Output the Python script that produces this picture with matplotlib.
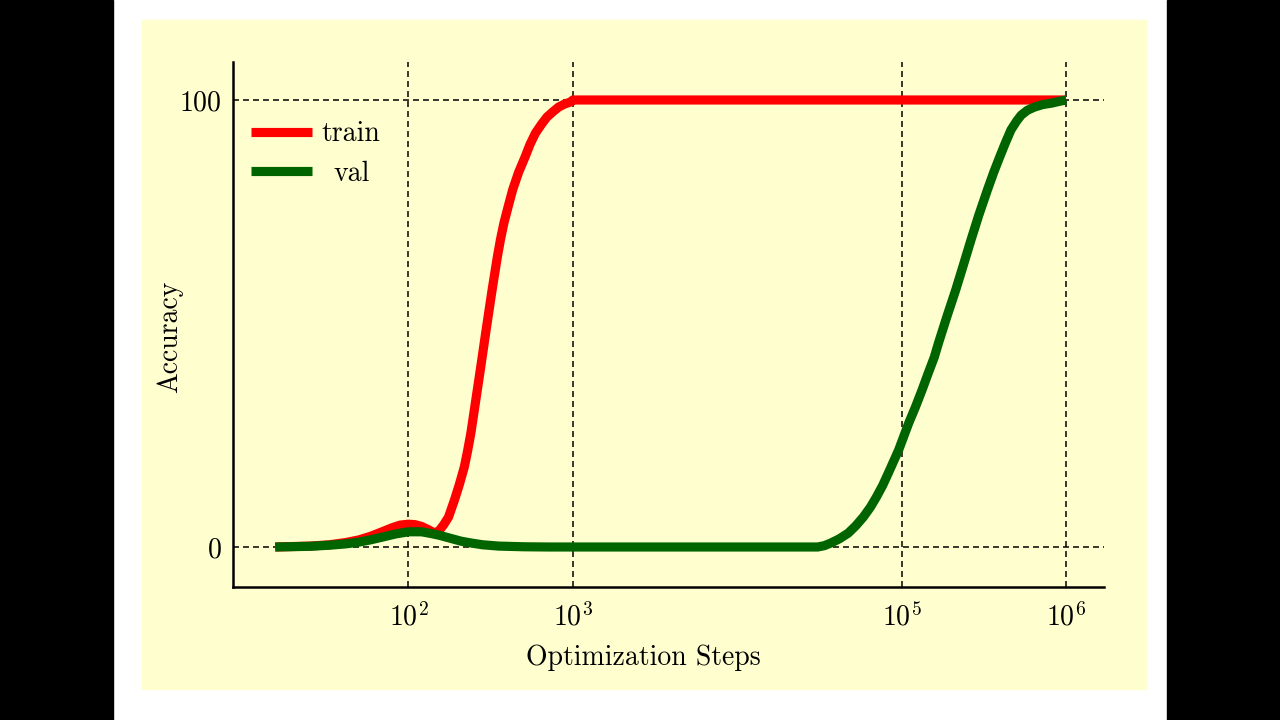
import matplotlib
matplotlib.use("Agg")
import matplotlib.pyplot as plt
import numpy as np
from matplotlib.patches import Rectangle
from matplotlib.ticker import FixedLocator, LogFormatterMathtext, NullLocator

# log10 of optimization steps
train_logx = [1.19, 1.40, 1.52, 1.62, 1.70, 1.77, 1.84, 1.90, 1.95, 2.00, 2.04, 2.08,
              2.12, 2.15, 2.17, 2.19, 2.215, 2.244, 2.28, 2.31, 2.34, 2.36, 2.38, 2.395,
              2.41, 2.425, 2.44, 2.455, 2.47, 2.485, 2.50, 2.512, 2.541, 2.56, 2.581, 2.61,
              2.634, 2.67, 2.709, 2.74, 2.773, 2.81, 2.843, 2.88, 2.913, 2.95, 2.99, 3.00,
              6.00]
train_acc = [0, 0.2, 0.5, 1.0, 1.6, 2.4, 3.4, 4.3, 4.9, 5.1, 5.0, 4.6,
             3.9, 3.3, 3.2, 3.8, 5.0, 6.7, 10.5, 14.0, 17.9, 21.5, 25.5, 29.2,
             32.9, 36.6, 40.3, 44.1, 47.9, 51.6, 55.3, 58.2, 64.9, 68.8, 72.5, 76.6,
             79.9, 83.8, 87.2, 90.1, 92.6, 94.6, 96.2, 97.4, 98.4, 99.1, 99.6, 100,
             100]

val_logx = [1.19, 1.40, 1.52, 1.62, 1.70, 1.77, 1.84, 1.92, 2.00, 2.08, 2.14, 2.19,
            2.26, 2.32, 2.38, 2.45, 2.55, 2.70, 2.85, 4.49, 4.53, 4.57, 4.62, 4.675,
            4.72, 4.767, 4.81, 4.847, 4.885, 4.92, 4.982, 5.043, 5.085, 5.124, 5.16, 5.199,
            5.224, 5.275, 5.329, 5.375, 5.422, 5.47, 5.522, 5.56, 5.596, 5.63, 5.665, 5.70,
            5.727, 5.765, 5.807, 5.86, 5.913, 5.96, 6.00]
val_acc = [0, 0.15, 0.4, 0.7, 1.1, 1.6, 2.2, 2.9, 3.4, 3.4, 3.0, 2.6,
           1.9, 1.3, 0.9, 0.5, 0.2, 0.05, 0, 0, 0.3, 0.9, 1.8, 3.1,
           4.7, 6.7, 8.9, 11.2, 13.8, 16.6, 21.7, 27.7, 31.4, 35.1, 38.7, 42.5,
           45.6, 51.5, 57.5, 63.0, 68.7, 74.3, 79.9, 83.8, 87.2, 90.3, 93.3, 95.3,
           96.6, 97.7, 98.4, 99.0, 99.3, 99.7, 100]

x_ticks = [1e2, 1e3, 1e5, 1e6]
y_ticks = [0, 100]

plt.rcParams['font.family'] = ['cmr10']
plt.rcParams['mathtext.fontset'] = 'cm'
plt.rcParams['axes.unicode_minus'] = False
plt.rcParams['axes.formatter.use_mathtext'] = True
plt.rcParams['lines.scale_dashes'] = False

fs = 20

fig = plt.figure(figsize=(12.8, 7.2), dpi=100)
fig.patch.set_facecolor('white')
# black side bars and the yellow panel behind the plot
fig.add_artist(Rectangle((0, 0), 113 / 1280, 1, transform=fig.transFigure,
                         color='black', zorder=-10))
fig.add_artist(Rectangle((1167 / 1280, 0), 113 / 1280, 1, transform=fig.transFigure,
                         color='black', zorder=-10))
fig.add_artist(Rectangle((142 / 1280, 31 / 720), 1004 / 1280, 669 / 720,
                         transform=fig.transFigure, color='#fefecf', zorder=-9))

ax = fig.add_axes([233 / 1280, 133 / 720, 871 / 1280, 525 / 720])
ax.set_facecolor('none')

ax.set_xscale('log')
ax.set_xlim(10 ** 0.933, 10 ** 6.231)
ax.set_ylim(-8.95, 108.5)

grid_kw = dict(color='black', lw=1.1, dashes=(4.3, 2.9), zorder=1)
for xt in x_ticks:
    ax.axvline(xt, **grid_kw)
for yt in y_ticks:
    ax.axhline(yt, **grid_kw)

ax.plot(10 ** np.array(train_logx), train_acc, color='#ff0000', lw=6.6,
        solid_capstyle='butt', solid_joinstyle='round', label='train', zorder=3)
ax.plot(10 ** np.array(val_logx), val_acc, color='#006400', lw=6.6,
        solid_capstyle='butt', solid_joinstyle='round', label='val', zorder=4)

ax.xaxis.set_major_locator(FixedLocator(x_ticks))
ax.xaxis.set_minor_locator(NullLocator())
ax.xaxis.set_major_formatter(LogFormatterMathtext())
ax.set_yticks(y_ticks)
ax.tick_params(axis='both', length=0, labelsize=fs)
ax.tick_params(axis='x', pad=11)
ax.tick_params(axis='y', pad=8)

for s in ['top', 'right']:
    ax.spines[s].set_visible(False)
for s in ['left', 'bottom']:
    ax.spines[s].set_linewidth(1.8)

ax.set_xlabel('Optimization Steps', fontsize=fs)
ax.set_ylabel('Accuracy', fontsize=fs)
ax.xaxis.set_label_coords(0.471, -0.11)
ax.yaxis.set_label_coords(-0.057, 0.476)

leg = ax.legend(loc='upper left', bbox_to_anchor=(-0.008, 0.935), frameon=False,
                fontsize=fs, handlelength=2.2, handletextpad=0.35,
                labelspacing=0.48)
for line in leg.get_lines():
    line.set_linewidth(6.6)
# the reference centres the shorter label under the longer one
leg.get_texts()[1].set_x(12)

fig.savefig('out.png', dpi=100)
